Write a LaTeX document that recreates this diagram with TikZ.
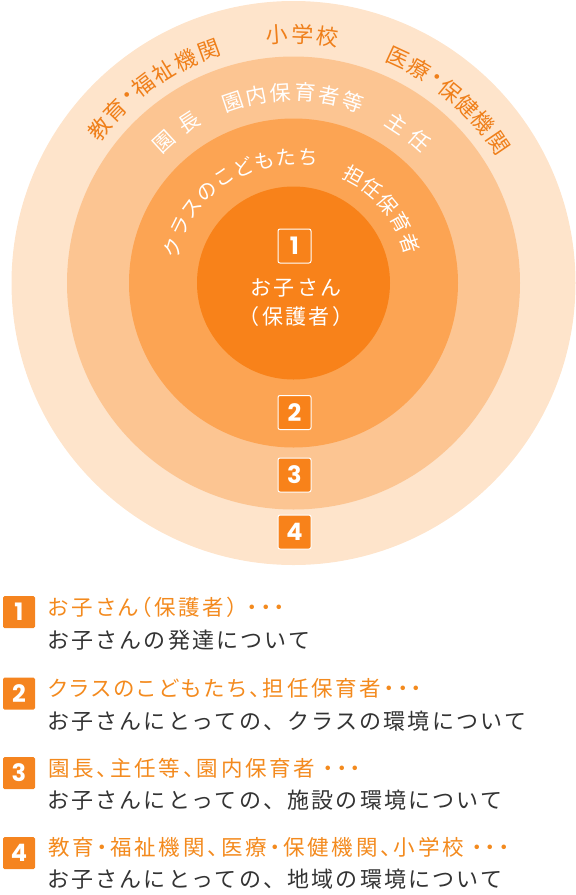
\documentclass[tikz,border=0pt]{standalone}
\usepackage{fontspec}
\setmainfont{Noto Sans CJK JP}
\newfontfamily\jpbody[LetterSpace=10]{Noto Sans CJK JP}
\newfontfamily\jphead[RawFeature=+palt,LetterSpace=13]{Noto Sans CJK JP}
\newfontfamily\jpmid[LetterSpace=11]{Noto Sans CJK JP}
\newfontfamily\numfont{Poppins}
\definecolor{cOuter}{HTML}{FEE4CB}
\definecolor{cRingB}{HTML}{FCC592}
\definecolor{cRingC}{HTML}{FCA453}
\definecolor{cInner}{HTML}{F8821A}
\definecolor{cOrTxt}{HTML}{EF7F1A}
\definecolor{cHead}{HTML}{F38A1E}
\definecolor{cBody}{HTML}{333333}
\definecolor{cBox}{HTML}{F5841F}
\tikzset{
  outtxt/.style={inner sep=0pt,text=cOrTxt,font=\fontsize{22pt}{22pt}\selectfont},
  midtxt/.style={inner sep=0pt,text=white,font=\fontsize{21pt}{21pt}\selectfont},
  inntxt/.style={inner sep=0pt,text=white,font=\fontsize{20pt}{20pt}\selectfont},
  numbox/.style={draw=white,line width=1pt,fill=cInner,rounded corners=2pt,
    minimum width=33pt,minimum height=34pt,inner sep=0pt,text=white,
    font=\numfont\bfseries\fontsize{24pt}{24pt}\selectfont},
  legbox/.style={fill=cBox,rounded corners=1.5pt,minimum width=32pt,minimum height=32pt,
    inner sep=0pt,text=white,font=\numfont\bfseries\fontsize{24pt}{24pt}\selectfont},
  headtxt/.style={anchor=west,inner sep=0pt,text=cHead,text height=0.88em,text depth=0.12em,
    font=\jphead\fontsize{21.5pt}{21.5pt}\selectfont},
  bodytxt/.style={anchor=west,inner sep=0pt,text=cBody,text height=0.88em,text depth=0.12em,
    font=\jpbody\fontsize{22pt}{22pt}\selectfont},
  centertxt/.style={inner sep=0pt,text=white,align=center,
    font=\jpmid\fontsize{21pt}{29pt}\selectfont}
}
\begin{document}
\begin{tikzpicture}[x=1pt,y=1pt]
\useasboundingbox (0,0) rectangle (576,-895);
\coordinate (c) at (293.5,-283);
\fill[cOuter] (c) circle[radius=282];
\fill[cRingB] (c) circle[radius=226.5];
\fill[cRingC] (c) circle[radius=164.5];
\fill[cInner] (c) circle[radius=96.5];
% outer ring
\foreach \ch/\an [count=\i] in {教/141.5,育/135.9,・/131.5,福/127.2,祉/121.5,機/115.8,関/110}
  \node[outtxt,rotate=\an-90] (oa\i) at ([shift={(\an:248pt)}]c) {\ch};
\foreach \ch/\an [count=\i] in {小/93.8,学/87.9,校/82.1}
  \node[outtxt,rotate=\an-90] (ob\i) at ([shift={(\an:249pt)}]c) {\ch};
\foreach \ch/\an [count=\i] in {医/65.2,療/59.6,・/55.1,保/50.7,健/45.5,機/40.2,関/34.2}
  \node[outtxt,rotate=\an-90] (oc\i) at ([shift={(\an:248pt)}]c) {\ch};
% second ring
\foreach \ch/\an [count=\i] in {園/132.5,長/123}
  \node[midtxt,rotate=\an-90] (ma\i) at ([shift={(\an:192pt)}]c) {\ch};
\foreach \ch/\an [count=\i] in {園/108.6,内/101.2,保/93.8,育/86.5,者/79.1,等/71.7}
  \node[midtxt,rotate=\an-90] (mb\i) at ([shift={(\an:191pt)}]c) {\ch};
\foreach \ch/\an [count=\i] in {主/57,任/48.5}
  \node[midtxt,rotate=\an-90] (mc\i) at ([shift={(\an:190pt)}]c) {\ch};
% third ring
\foreach \ch/\an [count=\i] in {ク/163.6,ラ/153.5,ス/143.5,の/133.4,こ/123.4,ど/113.4,も/103.4,た/93.3,ち/83.3}
  \node[inntxt,rotate=\an-90] (ia\i) at ([shift={(\an:126pt)}]c) {\ch};
\foreach \ch/\an [count=\i] in {担/60.7,任/50.2,保/39.7,育/29.2,者/18.7}
  \node[inntxt,rotate=\an-90] (ib\i) at ([shift={(\an:123pt)}]c) {\ch};
% centre
\node[numbox] (n1) at (294.5,-246) {1};
\node[centertxt] (child) at (296,-303) {お子さん\\（保護者）};
\node[numbox] (n2) at (294.5,-412.5) {2};
\node[numbox] (n3) at (294.5,-475) {3};
\node[numbox] (n4) at (294.5,-532) {4};
% legend
\node[legbox] (l1) at (19,-612) {1};
\node[headtxt] (h1) at (48,-612) {お子さん（保護者）\hspace{9pt}・・・};
\node[bodytxt] (b1) at (47,-645) {お子さんの発達について};
\node[legbox] (l2) at (19,-693.5) {2};
\node[headtxt] (h2) at (48,-693) {クラスのこどもたち、担任保育者・・・};
\node[bodytxt] (b2) at (47,-726) {お子さんにとっての、クラスの環境について};
\node[legbox] (l3) at (19,-773) {3};
\node[headtxt] (h3) at (48,-773) {園長、主任等、園内保育者 ・・・};
\node[bodytxt] (b3) at (47,-805) {お子さんにとっての、施設の環境について};
\node[legbox] (l4) at (19,-853) {4};
\node[headtxt] (h4) at (48,-852) {教育・福祉機関、医療・保健機関、小学校 ・・・};
\node[bodytxt] (b4) at (47,-884) {お子さんにとっての、地域の環境について};
\end{tikzpicture}
\end{document}
